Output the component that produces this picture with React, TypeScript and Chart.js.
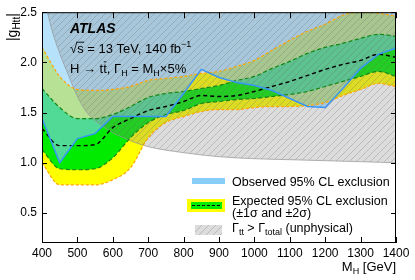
import React, { useEffect, useRef } from 'react';
import { Chart, registerables } from 'chart.js';

Chart.register(...registerables);

const FONT = '"Liberation Sans", Arial, Helvetica, sans-serif';

// ---- data ----
const xTicks = [400, 500, 600, 700, 800, 900, 1000, 1100, 1200, 1300, 1400];
const yTicks = [0.5, 1.0, 1.5, 2.0, 2.5];

const massPoints = [400, 450, 500, 550, 600, 650, 700, 750, 800, 850, 900, 950, 1000, 1050, 1100, 1150, 1200, 1250, 1300, 1350, 1400];
const expMedian = [1.34, 1.17, 1.17, 1.18, 1.35, 1.44, 1.52, 1.56, 1.61, 1.67, 1.66, 1.67, 1.71, 1.76, 1.81, 1.87, 1.93, 1.98, 2.02, 2.08, 2.05];
const exp1Up = [1.74, 1.55, 1.44, 1.44, 1.48, 1.56, 1.65, 1.69, 1.71, 1.74, 1.77, 1.82, 1.86, 1.94, 2.01, 2.09, 2.15, 2.19, 2.24, 2.28, 2.26];
const exp1Dn = [1.13, 0.94, 0.93, 0.94, 1.05, 1.25, 1.40, 1.48, 1.52, 1.59, 1.61, 1.63, 1.64, 1.66, 1.68, 1.71, 1.76, 1.81, 1.86, 1.91, 1.86];
const exp2Up = [2.15, 1.86, 1.73, 1.72, 1.73, 1.76, 1.82, 1.84, 1.86, 1.89, 1.91, 1.96, 2.02, 2.12, 2.22, 2.31, 2.38, 2.47, 2.50, 2.49, 2.46];
const exp2Dn = [1.00, 0.78, 0.78, 0.78, 0.83, 0.95, 1.25, 1.40, 1.46, 1.51, 1.53, 1.53, 1.55, 1.56, 1.56, 1.57, 1.60, 1.67, 1.73, 1.79, 1.76];
const observed = [1.44, 1.00, 1.24, 1.29, 1.46, 1.46, 1.46, 1.46, 1.69, 1.93, 1.85, 1.80, 1.77, 1.72, 1.64, 1.56, 1.55, 1.74, 1.94, 2.08, 2.14];

const unphysMass = [400, 425, 450, 475, 500, 525, 550, 600, 650, 700, 800, 900, 1000, 1100, 1200, 1300, 1400];
const unphysG = [2.75, 2.36, 2.09, 1.87, 1.66, 1.51, 1.42, 1.30, 1.22, 1.16, 1.10, 1.06, 1.04, 1.03, 1.02, 1.01, 1.00];

// ---- styles ----
const YELLOW = '#ffff00';
const GREEN = 'rgb(0,235,0)';
const OBS_FILL = 'rgba(135,206,250,0.6)';
const OBS_SWATCH = 'rgb(135,206,250)';
const OBS_LINE = 'rgb(55,150,245)';
const ORANGE = 'rgb(255,165,0)';
const DKGREEN = 'rgb(20,135,20)';

const pts = (xs: number[], ys: number[]) => xs.map((x, i) => ({ x, y: ys[i] }));

function makeHatch(): CanvasPattern | string {
  const c = document.createElement('canvas');
  c.width = 7;
  c.height = 7;
  const g = c.getContext('2d');
  if (!g) return 'rgba(128,128,128,0.3)';
  g.fillStyle = 'rgba(128,128,128,0.28)';
  g.fillRect(0, 0, 7, 7);
  g.strokeStyle = 'rgba(90,90,90,0.25)';
  g.lineWidth = 1;
  g.beginPath();
  g.moveTo(-1, 8);
  g.lineTo(8, -1);
  g.stroke();
  return g.createPattern(c, 'repeat') || 'rgba(128,128,128,0.3)';
}

type Part = { t: string; size: number; dy?: number; weight?: string; style?: string; bar?: boolean; over?: boolean };

function drawParts(ctx: CanvasRenderingContext2D, parts: Part[], x: number, y: number, align: 'left' | 'right' = 'left') {
  const widths = parts.map((p) => {
    ctx.font = `${p.style || ''} ${p.weight || ''} ${p.size}px ${FONT}`;
    return ctx.measureText(p.t).width;
  });
  const total = widths.reduce((s, w) => s + w, 0);
  let cx = align === 'right' ? x - total : x;
  parts.forEach((p, i) => {
    ctx.font = `${p.style || ''} ${p.weight || ''} ${p.size}px ${FONT}`;
    const yy = y + (p.dy || 0);
    ctx.fillText(p.t, cx, yy);
    if (p.bar) {
      ctx.save();
      ctx.lineWidth = 0.9;
      ctx.beginPath();
      ctx.moveTo(cx + 0.5, yy - p.size * 0.86);
      ctx.lineTo(cx + widths[i] - 0.5, yy - p.size * 0.86);
      ctx.stroke();
      ctx.restore();
    }
    if (p.over) {
      ctx.save();
      ctx.lineWidth = 0.9;
      ctx.beginPath();
      ctx.moveTo(cx - 1, yy - p.size * 0.83);
      ctx.lineTo(cx + widths[i] + 0.5, yy - p.size * 0.83);
      ctx.stroke();
      ctx.restore();
    }
    cx += widths[i];
  });
  return total;
}

const decorPlugin = {
  id: 'decor',
  afterDraw(chart: any) {
    const ctx: CanvasRenderingContext2D = chart.ctx;
    const a = chart.chartArea;
    const xs = chart.scales.x;
    const ys = chart.scales.y;
    ctx.save();
    ctx.strokeStyle = '#000';
    ctx.fillStyle = '#000';
    ctx.lineWidth = 1;
    // frame
    ctx.strokeRect(a.left + 0.5, a.top + 0.5, a.right - a.left - 1, a.bottom - a.top - 1);
    // inward ticks
    ctx.beginPath();
    xTicks.forEach((v) => {
      const px = Math.round(xs.getPixelForValue(v)) + 0.5;
      ctx.moveTo(px, a.bottom);
      ctx.lineTo(px, a.bottom - 6);
      ctx.moveTo(px, a.top);
      ctx.lineTo(px, a.top + 6);
    });
    yTicks.forEach((v) => {
      const py = Math.round(ys.getPixelForValue(v)) + 0.5;
      ctx.moveTo(a.left, py);
      ctx.lineTo(a.left + 5, py);
      ctx.moveTo(a.right, py);
      ctx.lineTo(a.right - 5, py);
    });
    ctx.stroke();

    ctx.textBaseline = 'alphabetic';
    // axis titles
    drawParts(ctx, [
      { t: 'M', size: 13 },
      { t: 'H', size: 9, dy: 3 },
      { t: ' [GeV]', size: 13 },
    ], a.right, 271, 'right');

    ctx.save();
    ctx.translate(17, a.top + 1);
    ctx.rotate(-Math.PI / 2);
    drawParts(ctx, [
      { t: '|g', size: 14 },
      { t: 'Htt', size: 10, dy: 3 },
      { t: '|', size: 14 },
    ], 0, 0, 'right');
    ctx.restore();

    // ATLAS label block
    const lx = 70;
    drawParts(ctx, [{ t: 'ATLAS', size: 14, weight: 'bold', style: 'italic' }], lx, 33);
    drawParts(ctx, [
      { t: '\u221A', size: 13 },
      { t: 's', size: 13, over: true },
      { t: ' = 13 TeV, 140 fb', size: 13 },
      { t: '\u22121', size: 9, dy: -6 },
    ], lx, 53);
    drawParts(ctx, [
      { t: 'H \u2192 t', size: 13 },
      { t: 't', size: 13, bar: true },
      { t: ', \u0393', size: 13 },
      { t: 'H', size: 9, dy: 3 },
      { t: ' = M', size: 13 },
      { t: 'H', size: 9, dy: 3 },
      { t: '\u00D75%', size: 13 },
    ], lx, 73);

    // legend
    const tx = 232;
    ctx.fillStyle = OBS_SWATCH;
    ctx.fillRect(192, 178, 33, 6);
    ctx.fillStyle = '#000';
    drawParts(ctx, [{ t: 'Observed 95% CL exclusion', size: 12.5 }], tx, 186);

    ctx.fillStyle = YELLOW;
    ctx.fillRect(187, 199, 38, 13);
    ctx.fillStyle = GREEN;
    ctx.fillRect(191, 202, 31, 7);
    ctx.save();
    ctx.strokeStyle = '#000';
    ctx.setLineDash([3, 2]);
    ctx.beginPath();
    ctx.moveTo(192, 205.5);
    ctx.lineTo(221, 205.5);
    ctx.stroke();
    ctx.restore();
    ctx.fillStyle = '#000';
    drawParts(ctx, [{ t: 'Expected 95% CL exclusion', size: 12.5 }], tx, 205);
    drawParts(ctx, [{ t: '(\u00B11\u03C3 and \u00B12\u03C3)', size: 12.5 }], tx, 217);

    ctx.fillStyle = chart.$hatch || 'rgba(128,128,128,0.3)';
    ctx.fillRect(195, 225, 27, 10);
    ctx.fillStyle = '#000';
    drawParts(ctx, [
      { t: '\u0393', size: 12.5 },
      { t: 'tt', size: 9, dy: 3 },
      { t: ' > \u0393', size: 12.5 },
      { t: 'total', size: 9, dy: 3 },
      { t: ' (unphysical)', size: 12.5 },
    ], tx, 232);

    ctx.restore();
  },
};

export default function App() {
  const ref = useRef<HTMLCanvasElement>(null);

  useEffect(() => {
    if (!ref.current) return;
    const hatch = makeHatch();
    const common = { pointRadius: 0, pointHoverRadius: 0, tension: 0 };
    const smooth = { pointRadius: 0, pointHoverRadius: 0, cubicInterpolationMode: 'monotone' as const };
    const chart: any = new Chart(ref.current, {
      type: 'line',
      data: {
        datasets: [
          // 0,1: +-2 sigma band
          { data: pts(massPoints, exp2Up), fill: 1, backgroundColor: YELLOW, borderWidth: 0, borderColor: 'transparent', order: 10, ...smooth },
          { data: pts(massPoints, exp2Dn), fill: false, borderWidth: 0, borderColor: 'transparent', order: 10, ...smooth },
          // 2,3: +-1 sigma band
          { data: pts(massPoints, exp1Up), fill: 3, backgroundColor: GREEN, borderWidth: 0, borderColor: 'transparent', order: 9, ...smooth },
          { data: pts(massPoints, exp1Dn), fill: false, borderWidth: 0, borderColor: 'transparent', order: 9, ...smooth },
          // 4: observed excluded region
          { data: pts(massPoints, observed), fill: 'end', backgroundColor: OBS_FILL, borderWidth: 0, borderColor: 'transparent', order: 8, ...common },
          // 5: unphysical region
          { data: pts(unphysMass, unphysG), fill: 'end', backgroundColor: hatch as any, borderWidth: 1, borderColor: 'rgba(150,150,150,0.7)', order: 7, ...smooth },
          // lines
          { data: pts(massPoints, exp2Up), fill: false, borderColor: ORANGE, borderWidth: 1.2, borderDash: [3, 2], order: 6, ...smooth },
          { data: pts(massPoints, exp2Dn), fill: false, borderColor: ORANGE, borderWidth: 1.2, borderDash: [3, 2], order: 6, ...smooth },
          { data: pts(massPoints, exp1Up), fill: false, borderColor: DKGREEN, borderWidth: 1.2, borderDash: [4, 2.5], order: 5, ...smooth },
          { data: pts(massPoints, exp1Dn), fill: false, borderColor: DKGREEN, borderWidth: 1.2, borderDash: [4, 2.5], order: 5, ...smooth },
          { data: pts(massPoints, expMedian), fill: false, borderColor: '#000', borderWidth: 1.4, borderDash: [4, 3], order: 4, ...smooth },
          { data: pts(massPoints, observed), fill: false, borderColor: OBS_LINE, borderWidth: 1.5, order: 3, ...common },
        ],
      },
      options: {
        animation: false,
        responsive: false,
        devicePixelRatio: 1,
        events: [],
        layout: { padding: { top: 9, right: 19, left: 0, bottom: 0 } },
        plugins: { legend: { display: false }, tooltip: { enabled: false }, filler: { propagate: false } },
        scales: {
          x: {
            type: 'linear',
            min: 400,
            max: 1400,
            grid: { display: false, drawTicks: false },
            border: { display: false },
            afterBuildTicks: (s: any) => { s.ticks = xTicks.map((v) => ({ value: v })); },
            afterFit: (s: any) => { s.height = 37; },
            ticks: { color: '#000', font: { family: FONT, size: 12 }, padding: 3, maxRotation: 0, autoSkip: false, callback: (v: any) => String(v) },
          },
          y: {
            type: 'linear',
            min: 0.2,
            max: 2.5,
            grid: { display: false, drawTicks: false },
            border: { display: false },
            afterBuildTicks: (s: any) => { s.ticks = yTicks.map((v) => ({ value: v })); },
            afterFit: (s: any) => { s.width = 42; },
            ticks: { color: '#000', font: { family: FONT, size: 12 }, padding: 5, autoSkip: false, callback: (v: any) => Number(v).toFixed(1) },
          },
        },
      },
      plugins: [decorPlugin],
    } as any);
    chart.$hatch = hatch;
    chart.draw();
    return () => chart.destroy();
  }, []);

  return (
    <div style={{ position: 'fixed', left: 0, top: 0, width: 415, height: 280, background: '#fff' }}>
      <canvas ref={ref} width={415} height={280} style={{ width: 415, height: 280, display: 'block' }} />
    </div>
  );
}
